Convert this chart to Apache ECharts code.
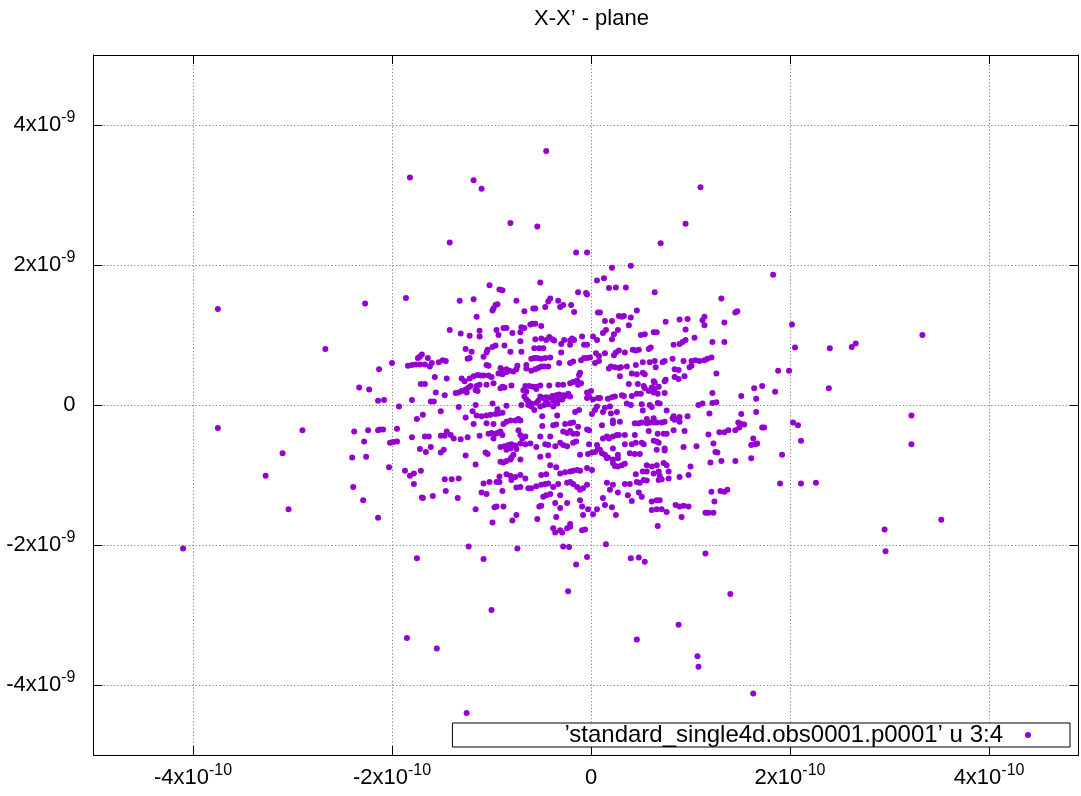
<!DOCTYPE html>
<html>
<head>
<meta charset="utf-8">
<script src="https://cdn.jsdelivr.net/npm/echarts@6/dist/echarts.min.js"></script>
<style>
  html, body { margin: 0; padding: 0; background: #fff; }
  #chart { width: 1081px; height: 796px; }
</style>
</head>
<body>
<div id="chart"></div>
<script>
// x in units of 1e-10, y in units of 1e-9
var xTicks = [-4, -2, 0, 2, 4];
var yTicks = [-4, -2, 0, 2, 4];

var haloPoints = [
  [-1.82,3.25],[-1.18,3.21],[-1.10,3.09],[-0.45,3.63],[-0.81,2.60],[-0.54,2.55],[-1.42,2.32],
  [1.10,3.11],[0.95,2.59],[0.70,2.31],[-0.15,2.18],[-0.04,2.18],[0.21,1.96],[0.40,1.99],
  [-3.75,1.37],[-2.67,0.80],[-3.75,-0.33],[-2.90,-0.36],[-3.10,-0.69],[-3.27,-1.01],[-3.04,-1.49],
  [-4.10,-2.05],[-1.75,-2.19],[-1.23,-2.02],[-1.08,-2.20],[-0.74,-2.05],[-0.28,-2.02],[-0.22,-2.03],
  [-0.23,-2.66],[-1.00,-2.93],[-1.85,-3.33],[-1.55,-3.48],[-1.25,-4.40],
  [0.15,-1.99],[-0.04,-2.17],[-0.15,-2.28],[0.40,-2.19],[0.48,-2.18],[0.54,-2.24],[1.15,-2.12],
  [1.40,-2.70],[0.88,-3.14],[0.46,-3.35],[1.07,-3.59],[1.08,-3.74],[1.63,-4.12],[2.96,-2.09],
  [3.33,1.00],[3.22,-0.15],[3.22,-0.56],[3.52,-1.64],[2.95,-1.78],
  [1.83,1.86],[2.02,1.15],[2.05,0.82],[2.40,0.81],[2.62,0.83],[2.66,0.88],[1.88,0.49],[1.99,0.49],
  [2.39,0.24],[1.85,0.19],[1.64,0.24],[1.72,0.27],[1.51,0.13],[1.66,0.09],[1.51,-0.13],[1.66,-0.10],
  [-2.27,1.45],[-2.00,0.60],[-2.13,0.51],[-2.33,0.25],[-2.23,0.22],[-2.14,0.06],[-2.08,0.07],
  [-2.38,-0.38],[-2.24,-0.36],[-2.14,-0.36],[-2.12,-0.35],[-2.09,-0.35],[-2.28,-0.52],[-2.40,-0.75],
  [-2.26,-0.74],[-2.03,-0.89],[-2.14,-1.61],[-2.39,-1.17],[-2.29,-1.36],
  [2.03,-0.25],[2.08,-0.29],[2.11,-0.51],[1.92,-0.71],[1.90,-1.12],[2.11,-1.12],[2.26,-1.11]
];

var upperLeft = [
  [-0.51,1.75],[-1.02,1.71],[-0.92,1.65],[-0.89,1.64],[-0.13,1.61],[-0.05,1.60],[-0.04,1.58],[0.06,1.78],
  [-1.86,1.53],[-1.32,1.49],[-1.18,1.51],[-0.75,1.49],[-0.43,1.48],[-0.41,1.52],[-0.33,1.49],[-0.31,1.40],
  [-0.28,1.43],[-0.20,1.43],[-0.17,1.33],[-0.46,1.40],[-0.58,1.38],[-0.56,1.38],[-0.67,1.34],[-0.96,1.43],
  [-0.94,1.44],[-0.99,1.35],[-0.98,1.38],[-1.15,1.26],[0.07,1.32],
  [-1.42,1.07],[-1.31,1.02],[-1.22,0.99],[-1.12,1.06],[-1.12,0.98],[-0.95,1.07],[-0.93,1.00],[-0.88,1.10],
  [-0.85,1.10],[-0.79,1.03],[-0.71,1.04],[-0.70,1.11],[-0.67,1.10],[-0.61,1.15],[-0.59,1.16],[-0.56,1.16],[-0.50,1.13],
  [-0.71,0.91],[-0.56,0.94],[-0.50,0.95],[-0.45,0.93],[-0.42,0.97],[-0.39,0.94],[-0.37,0.92],[-0.30,0.87],
  [-0.27,0.93],[-0.21,0.92],[-0.19,0.95],[-0.17,0.93],[-0.09,0.98],[0.02,0.98],[0.06,0.93],
  [-1.26,0.80],[-1.20,0.76],[-1.08,0.69],[-1.05,0.75],[-1.04,0.79],[-0.99,0.83],[-0.96,0.85],[-0.87,0.85],
  [-0.81,0.76],[-0.70,0.76],[-0.57,0.81],[-0.52,0.81],[-0.48,0.81],
  [-1.24,0.66],[-1.22,0.67],[-0.60,0.66],[-0.57,0.67],[-0.54,0.67],[-0.50,0.66],[-0.46,0.67],[-0.41,0.68],
  [-0.30,0.75],[-0.21,0.86],[-0.07,0.86],[-0.04,0.86],[0.05,0.74],[0.08,0.70],
  [-1.84,0.56],[-1.80,0.57],[-1.76,0.58],[-1.72,0.58],[-1.74,0.67],[-1.72,0.69],[-1.70,0.72],[-1.67,0.58],
  [-1.64,0.67],[-1.62,0.55],[-1.60,0.60],[-1.53,0.61],[-1.49,0.64],[-1.46,0.63],
  [-1.05,0.57],[-1.03,0.56],[-0.91,0.53],[-0.89,0.50],[-0.85,0.51],[-0.82,0.49],[-0.78,0.48],[-0.93,0.45],
  [-0.89,0.44],[-0.85,0.47],[-0.75,0.51],[-0.74,0.56],[-0.65,0.52],[-0.65,0.57],
  [-0.60,0.49],[-0.56,0.51],[-0.53,0.53],[-0.50,0.55],[-0.47,0.55],[-0.43,0.55],[-0.32,0.60],[-0.21,0.60],
  [-0.18,0.62],[-0.10,0.64],[-0.07,0.67],[-0.04,0.67],[-0.01,0.68],[0.04,0.60],[0.08,0.63],
  [-1.71,0.30],[-1.67,0.30],[-1.57,0.40],[-1.45,0.38],[-1.80,0.07],[-1.61,0.05],[-1.58,0.05],[-1.47,0.14],
  [-1.56,0.18],[-1.36,0.17],[-1.33,0.18],[-1.30,0.20],[-1.30,0.38],[-1.27,0.34],
  [-1.22,0.38],[-1.18,0.41],[-1.14,0.43],[-1.11,0.42],[-1.08,0.42],[-1.03,0.42],[-1.00,0.40],[-1.26,0.22],
  [-1.23,0.25],[-1.21,0.27],[-1.25,0.18],[-1.15,0.27],[-1.12,0.29],[-1.05,0.29],[-0.98,0.31],[-1.16,0.21],
  [-1.14,0.20],[-0.89,0.26],[-0.80,0.28],[-0.91,0.24],[-0.87,0.25],
  [-0.66,0.27],[-0.62,0.27],[-0.58,0.26],[-0.55,0.26],[-0.51,0.28],[-0.42,0.28],[-0.33,0.29],[-0.68,0.21],
  [-0.65,0.19],[-0.55,0.23],[-0.67,0.12],[-0.65,0.08],[-0.63,0.05],[-0.60,0.02],[-0.55,0.03],[-0.53,0.06],
  [-0.51,0.12],[-0.48,0.10],[-0.45,0.11],[-0.43,0.10],[-0.39,0.13],[-0.35,0.14],[-0.32,0.15],[-0.28,0.14],
  [-0.26,0.13],[-0.23,0.16],[-0.21,0.12],[-0.45,0.05],[-0.38,0.06],[-0.33,0.07],[-0.29,0.08],
  [-0.28,0.29],[-0.21,0.31],[-0.18,0.33],[-0.14,0.35],[-0.12,0.43],[-0.11,0.46],[-0.13,0.29],[-0.10,0.31],
  [-0.04,0.18],[0.00,0.20],[-0.04,0.10],[-0.02,0.12],[0.02,0.08],[0.07,0.10],
  [-1.93,-0.02],[-1.51,-0.09],[-1.33,-0.03],[-1.16,0.00],[-0.99,0.02],[-0.85,-0.01],[-1.26,-0.18],[-1.69,-0.14],
  [-1.75,-0.20],[-1.19,-0.09],[-1.15,-0.15],[-1.10,-0.16],[-1.05,-0.15],[-1.01,-0.14],[-0.96,-0.13],[-0.93,-0.12],
  [-0.89,-0.11],[-0.94,-0.06],
  [-0.70,0.00],[-0.63,0.00],[-0.60,-0.02],[-0.51,-0.02],[-0.47,0.00],[-0.43,0.01],[-0.38,-0.02],[-0.34,0.02],
  [-0.57,-0.07],[-0.49,-0.16],[-0.34,-0.15],[-0.16,-0.10],[-0.12,-0.07],[0.01,-0.13],[0.04,-0.07],[0.06,-0.02],[-0.73,-0.20]
];

var upperRight = [
  [0.13,1.81],[0.18,1.67],[0.25,1.68],[0.35,1.68],[0.64,1.61],[0.09,1.32],[0.28,1.27],[0.31,1.26],[0.33,1.27],
  [0.40,1.25],[0.46,1.35],[0.14,1.20],[0.21,1.20],[0.38,1.14],[0.75,1.19],[0.89,1.22],[0.97,1.23],[1.12,1.21],
  [1.14,1.26],[1.14,1.14],[0.95,1.08],
  [1.31,1.52],[1.45,1.32],[1.47,1.34],[1.34,1.18],[1.22,0.90],[1.34,0.90],[1.26,0.45],[1.22,0.17],[1.22,0.03],
  [1.26,0.04],[1.08,0.00],[1.12,0.02],[1.19,-0.12],
  [0.63,1.04],[0.66,1.04],[0.50,1.00],[0.54,1.01],[0.27,1.07],[0.12,1.03],[0.15,1.07],[0.23,1.01],[0.21,0.94],
  [1.04,0.96],[0.83,0.86],[0.89,0.87],[0.92,0.90],[0.95,0.93],[0.60,0.82],[0.58,0.80],[0.42,0.79],[0.45,0.78],
  [0.48,0.79],[0.34,0.75],[0.14,0.74],[0.23,0.71],[0.25,0.75],[0.28,0.78],
  [0.82,0.66],[0.74,0.63],[0.72,0.61],[0.93,0.63],[1.01,0.63],[1.05,0.64],[1.09,0.63],[1.14,0.64],[1.17,0.66],
  [1.21,0.68],[0.64,0.63],[0.59,0.61],[0.52,0.61],[0.99,0.54],[1.01,0.56],[0.84,0.51],[0.88,0.50],[0.65,0.54],
  [0.45,0.57],[0.36,0.55],[0.18,0.52],[0.20,0.55],[0.24,0.54],[0.28,0.53],[0.30,0.54],
  [0.29,0.41],[0.41,0.45],[0.46,0.44],[0.52,0.46],[0.54,0.44],[0.63,0.34],[0.64,0.32],[0.74,0.34],[0.75,0.36],
  [0.84,0.40],[0.88,0.37],[0.94,0.41],[0.38,0.30],[0.47,0.30],[0.53,0.27],[0.54,0.24],[0.61,0.25],[0.64,0.23],
  [0.68,0.26],[0.58,0.20],[0.46,0.16],[0.50,0.16],[0.41,0.13],[0.63,0.18],[0.67,0.16],[0.74,0.17],
  [0.09,0.10],[0.17,0.09],[0.21,0.11],[0.24,0.12],[0.31,0.14],[0.33,0.13],[0.36,0.02],[0.40,0.00],[0.51,0.01],
  [0.59,0.00],[0.61,-0.03],[0.67,0.03],[0.69,0.02],[0.14,-0.04],[0.19,-0.02],[0.76,-0.08],[0.12,-0.10],[0.20,-0.12],
  [0.26,-0.10],[0.52,-0.08],[0.83,-0.16],[0.89,-0.17],[0.97,-0.16],[0.82,-0.19],[0.63,-0.19],[0.56,-0.20]
];

var lowerLeft = [
  [-1.95,-0.34],[-2.02,-0.54],[-1.99,-0.53],[-1.95,-0.52],[-1.80,-0.46],[-1.67,-0.45],[-1.63,-0.45],[-1.72,-0.63],
  [-1.66,-0.67],[-1.61,-0.60],[-1.51,-0.44],[-1.47,-0.44],[-1.45,-0.38],[-1.41,-0.43],[-1.38,-0.48],[-1.31,-0.49],
  [-1.24,-0.46],[-1.51,-0.68],[-1.48,-0.64],
  [-1.18,-0.27],[-1.05,-0.26],[-0.98,-0.27],[-0.88,-0.27],[-0.85,-0.24],[-0.81,-0.22],[-0.76,-0.22],[-0.71,-0.22],
  [-1.12,-0.44],[-1.03,-0.41],[-1.00,-0.40],[-0.96,-0.41],[-0.94,-0.40],[-0.91,-0.38],[-0.89,-0.43],[-0.98,-0.48],
  [-0.73,-0.36],[-0.71,-0.43],[-0.69,-0.48],[-0.66,-0.45],
  [-0.49,-0.30],[-0.38,-0.29],[-0.35,-0.28],[-0.26,-0.27],[-0.21,-0.26],[-0.18,-0.25],[-0.13,-0.31],[-0.04,-0.35],
  [-0.02,-0.36],[-0.28,-0.38],[-0.24,-0.40],[-0.21,-0.37],[-0.18,-0.41],[-0.14,-0.41],[-0.51,-0.45],[-0.41,-0.45],
  [-0.91,-0.60],[-0.87,-0.59],[-0.83,-0.57],[-0.80,-0.56],[-0.76,-0.58],[-0.71,-0.55],[-0.66,-0.56],[-0.61,-0.55],
  [-0.85,-0.64],[-0.81,-0.62],[-0.75,-0.63],[-0.55,-0.60],[-0.46,-0.56],[-0.43,-0.57],[-0.36,-0.59],[-0.31,-0.54],
  [-0.28,-0.57],[-0.24,-0.59],[-0.18,-0.54],[-0.15,-0.52],[-0.02,-0.56],[0.06,-0.57],
  [-1.26,-0.72],[-1.06,-0.68],[-1.04,-0.70],[-0.91,-0.81],[-0.88,-0.82],[-0.85,-0.80],[-0.81,-0.78],[-0.80,-0.75],
  [-0.78,-0.71],[-0.71,-0.78],[-0.51,-0.74],[-0.43,-0.72],[-0.11,-0.71],[-0.03,-0.70],[0.01,-0.68],[0.04,-0.67],[0.07,-0.63],
  [-1.16,-0.85],[-1.87,-0.94],[-1.82,-1.01],[-1.78,-0.98],[-1.71,-0.94],[-1.78,-1.13],[-0.41,-0.86],[-0.35,-0.89],
  [-0.31,-0.98],[-0.26,-0.96],[-0.21,-0.95],[-0.18,-0.94],[-0.14,-0.93],[-0.11,-0.94],[-0.04,-0.90],[0.01,-0.93],
  [-0.50,-1.00],[-0.45,-0.99],
  [-0.92,-1.02],[-0.85,-0.99],[-0.81,-1.01],[-0.76,-1.03],[-0.71,-1.00],[-0.66,-1.05],[-1.08,-1.12],[-1.02,-1.10],
  [-0.95,-1.10],[-0.92,-1.10],[-0.80,-1.07],[-1.47,-1.06],[-1.40,-1.06],[-1.33,-1.05],[-1.46,-1.23],[-1.34,-1.33],
  [-1.70,-1.32],[-1.69,-1.33],[-1.59,-1.30],[-1.10,-1.25],[-1.05,-1.27],[-0.89,-1.23],[-0.75,-1.18],[-0.71,-1.17],
  [-0.63,-1.19],[-0.60,-1.19],[-0.55,-1.16],[-0.50,-1.14],[-0.46,-1.13],[-0.43,-1.12],[-0.38,-1.17],[-0.33,-1.13],
  [-0.48,-1.31],[-0.45,-1.29],[-0.41,-1.27],[-0.31,-1.29],[-0.24,-1.11],[-0.21,-1.10],[-0.18,-1.13],[-0.14,-1.17],
  [-0.11,-1.21],[-0.08,-1.19],[-0.04,-1.14],
  [-0.97,-1.46],[-0.95,-1.45],[-0.88,-1.45],[-1.16,-1.49],[-0.52,-1.45],[-0.50,-1.44],[-0.36,-1.40],[-0.31,-1.47],
  [-0.24,-1.40],[-0.11,-1.36],[-0.09,-1.45],[-0.03,-1.49],[0.06,-1.49],[-0.75,-1.57],[-0.79,-1.65],[-0.99,-1.68],
  [-0.54,-1.63],[-0.35,-1.60],
  [-0.21,-1.74],[-0.38,-1.76],[-0.36,-1.82],[-0.31,-1.79],[-0.29,-1.82],[-0.24,-1.76],[-0.21,-1.70],[-0.09,-1.79],
  [-0.06,-1.78],[-0.08,-1.57],[0.02,-1.56]
];

var lowerRight = [
  [0.11,-0.29],[0.22,-0.26],[0.22,-0.22],[0.29,-0.24],[0.44,-0.26],[0.48,-0.26],[0.51,-0.25],[0.56,-0.26],
  [0.59,-0.25],[0.63,-0.25],[0.66,-0.25],[0.71,-0.25],[0.74,-0.24],[0.84,-0.21],[0.89,-0.24],
  [0.12,-0.48],[0.16,-0.45],[0.18,-0.48],[0.22,-0.45],[0.26,-0.43],[0.28,-0.43],[0.34,-0.43],[0.44,-0.43],
  [0.58,-0.37],[0.67,-0.41],[0.73,-0.41],[0.76,-0.41],[0.83,-0.36],[0.94,-0.37],[1.18,-0.42],
  [1.29,-0.39],[1.34,-0.39],[1.38,-0.36],[1.45,-0.36],[1.49,-0.32],[1.51,-0.27],[1.54,-0.28],[1.72,-0.32],
  [1.74,-0.32],[1.48,-0.25],
  [1.63,-0.48],[1.61,-0.57],[1.65,-0.56],[1.67,-0.55],[1.61,-0.76],[1.45,-0.80],[1.31,-0.80],[1.23,-0.55],
  [1.25,-0.67],[1.27,-0.68],[1.20,-0.82],[1.06,-0.59],[0.93,-0.60],[0.74,-0.62],[0.74,-0.65],
  [0.63,-0.51],[0.66,-0.52],[0.68,-0.54],[0.66,-0.64],[0.51,-0.54],[0.53,-0.56],[0.45,-0.54],[0.41,-0.56],
  [0.34,-0.56],[0.22,-0.62],[0.09,-0.64],[0.11,-0.69],[0.14,-0.71],[0.16,-0.76],[0.17,-0.75],[0.22,-0.78],
  [0.27,-0.71],[0.27,-0.76],[0.39,-0.69],[0.44,-0.70],[0.49,-0.70],
  [0.22,-0.83],[0.24,-0.87],[0.27,-0.88],[0.31,-0.86],[0.34,-0.84],[0.52,-0.95],[0.56,-0.86],[0.56,-0.95],
  [0.61,-0.88],[0.63,-0.98],[0.66,-0.86],[0.68,-0.95],[0.73,-0.83],[0.76,-0.86],[0.78,-0.95],[0.45,-0.99],
  [0.16,-1.11],[0.22,-1.14],[0.19,-1.21],[0.34,-1.13],[0.39,-1.13],[0.46,-1.10],[0.49,-1.11],[0.53,-1.07],
  [0.56,-1.08],[0.68,-1.07],[0.71,-1.06],[0.69,-1.01],[0.78,-1.05],[0.89,-1.03],[0.98,-1.00],[1.00,-0.88],
  [0.12,-1.33],[0.14,-1.43],[0.21,-1.46],[0.25,-1.57],[0.27,-1.25],[0.37,-1.29],[0.41,-1.37],[0.48,-1.25],
  [0.51,-1.31],[0.61,-1.38],[0.66,-1.36],[0.69,-1.36],[0.61,-1.50],[0.66,-1.49],[0.71,-1.49],[0.76,-1.53],
  [0.85,-1.43],[0.89,-1.45],[0.93,-1.44],[0.98,-1.45],[0.91,-1.60],[0.67,-1.73],[1.21,-1.24],[1.24,-1.38],
  [1.30,-1.23],[1.34,-1.24],[1.37,-1.21],[1.15,-1.54],[1.18,-1.54],[1.23,-1.54]
];

var seriesName = '\u2019standard_single4d.obs0001.p0001\u2019 u 3:4';
var FONT = '"Liberation Sans", Arial, Helvetica, sans-serif';

var allPoints = haloPoints.concat(upperLeft, upperRight, lowerLeft, lowerRight);
var scatterData = allPoints.map(function (p) { return [p[0] * 1e-10, p[1] * 1e-9]; });

function sciFormatter(exp) {
    return function (v) {
        var m = Math.round(v / Math.pow(10, exp));
        if (m === 0) return '{m|0}';
        return '{m|' + m + 'x10}{s|' + exp + '}';
    };
}
var richText = {
    m: { fontSize: 22, fontFamily: FONT, color: '#000', lineHeight: 30 },
    s: { fontSize: 16, fontFamily: FONT, color: '#000', lineHeight: 16, verticalAlign: 'top' }
};
var gridLine = { show: true, lineStyle: { color: '#808080', width: 1, type: [1.2, 2.2] } };
var frameLine = { show: true, onZero: false, lineStyle: { color: '#000', width: 1 } };
var tickIn = function (vals) {
    return { show: true, inside: true, length: 9, lineStyle: { color: '#000', width: 1 }, customValues: vals };
};

var xVals = xTicks.map(function (t) { return t * 1e-10; });
var yVals = yTicks.map(function (t) { return t * 1e-9; });

var chart = echarts.init(document.getElementById('chart'), null, { renderer: 'canvas' });
chart.setOption({
    animation: false,
    backgroundColor: '#fff',
    textStyle: { fontFamily: FONT },
    title: {
        text: 'X-X\u2019 - plane',
        left: 534,
        top: 8,
        padding: 0,
        textStyle: { fontSize: 22, fontWeight: 'normal', color: '#000', fontFamily: FONT }
    },
    grid: { left: 93.5, right: 2.4, top: 55, bottom: 41, containLabel: false },
    xAxis: [
        {
            type: 'value', position: 'bottom', min: -5e-10, max: 4.9e-10,
            axisLine: frameLine, axisTick: tickIn(xVals), splitLine: gridLine,
            axisLabel: { customValues: xVals, margin: 8, formatter: sciFormatter(-10), rich: richText }
        },
        {
            type: 'value', position: 'top', min: -5e-10, max: 4.9e-10,
            axisLine: frameLine, axisTick: tickIn(xVals), splitLine: { show: false },
            axisLabel: { show: false }
        }
    ],
    yAxis: [
        {
            type: 'value', position: 'left', min: -5e-9, max: 5e-9,
            axisLine: frameLine, axisTick: tickIn(yVals), splitLine: gridLine,
            axisLabel: { customValues: yVals, margin: 18, formatter: sciFormatter(-9), rich: richText }
        },
        {
            type: 'value', position: 'right', min: -5e-9, max: 5e-9,
            axisLine: frameLine, axisTick: tickIn(yVals), splitLine: { show: false },
            axisLabel: { show: false }
        }
    ],
    legend: {
        data: [seriesName],
        right: 11,
        top: 723,
        orient: 'horizontal',
        align: 'right',
        icon: 'circle',
        itemWidth: 6,
        itemHeight: 6,
        borderColor: '#000',
        borderWidth: 1,
        borderRadius: 0,
        padding: [0, 39, 0, 112],
        backgroundColor: '#fff',
        itemStyle: { opacity: 1 },
        textStyle: { fontSize: 24, color: '#000', fontFamily: FONT, lineHeight: 23, padding: [0, 17, 0, 0] }
    },
    series: [
        {
            name: seriesName,
            type: 'scatter',
            xAxisIndex: 0,
            yAxisIndex: 0,
            symbol: 'circle',
            symbolSize: 6,
            itemStyle: { color: '#9400d3', opacity: 1 },
            emphasis: { disabled: true },
            data: scatterData
        }
    ]
});
</script>
</body>
</html>
